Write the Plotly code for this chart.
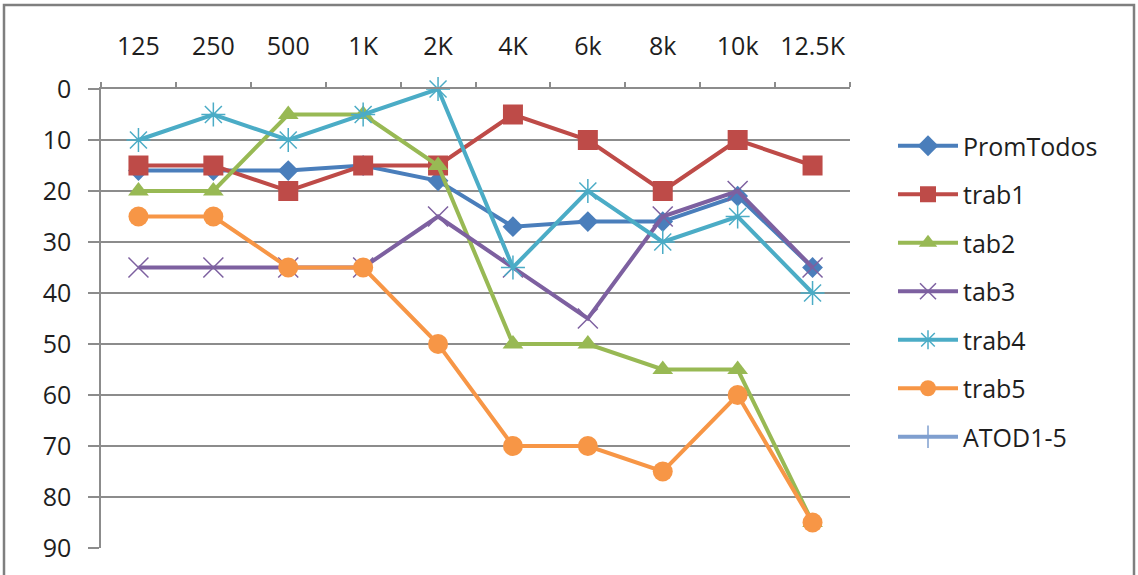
import plotly.graph_objects as go

# Audiometric thresholds per frequency (dB, plotted downward)
frequencies = ["125", "250", "500", "1K", "2K", "4K", "6k", "8k", "10k", "12.5K"]

prom_todos = [16, 16, 16, 15, 18, 27, 26, 26, 21, 35]
trab1 = [15, 15, 20, 15, 15, 5, 10, 20, 10, 15]
tab2 = [20, 20, 5, 5, 15, 50, 50, 55, 55, 85]
tab3 = [35, 35, 35, 35, 25, 35, 45, 25, 20, 35]
trab4 = [10, 5, 10, 5, 0, 35, 20, 30, 25, 40]
trab5 = [25, 25, 35, 35, 50, 70, 70, 75, 60, 85]
atod1_5 = [None, None, None, None, None, None, None, None, None, None]

y_ticks = [0, 10, 20, 30, 40, 50, 60, 70, 80, 90]

FONT = "Open Sans"
GRID = "#8c8c8c"
TEXT = "#1e1e1e"

series = [
    ("PromTodos", prom_todos, "#4A7EBB", dict(symbol="diamond", size=16)),
    ("trab1", trab1, "#BE4B48", dict(symbol="square", size=20)),
    ("tab2", tab2, "#98B954", dict(symbol="triangle-up", size=18)),
    ("tab3", tab3, "#7D60A0", dict(symbol="x-thin-open", size=20, line=dict(width=1.5))),
    ("trab4", trab4, "#4BACC6", dict(symbol="asterisk-open", size=20, line=dict(width=1.5))),
    ("trab5", trab5, "#F79646", dict(symbol="circle", size=20)),
    ("ATOD1-5", atod1_5, "#7F9FCF", dict(symbol="line-ns-open", size=20, line=dict(width=1.5))),
]

fig = go.Figure()
for name, values, color, marker in series:
    marker = dict(marker, color=color)
    fig.add_trace(go.Scatter(
        x=frequencies, y=values, name=name, mode="lines+markers",
        line=dict(color=color, width=4), marker=marker,
        legendgroup=name, cliponaxis=False,
    ))

W, H = 1138, 575
L, R, T, B = 101, 288, 89, 27


def px_x(v):
    return (v - L) / (W - L - R)


def px_y(v):
    return (H - B - v) / (H - T - B)


fig.update_layout(
    width=W, height=H,
    margin=dict(l=L, r=R, t=T, b=B, autoexpand=False),
    paper_bgcolor="white", plot_bgcolor="white",
    font=dict(family=FONT, size=25, color=TEXT),
    xaxis=dict(
        type="category", side="top", range=[-0.5, 9.5], tickangle=0,
        automargin=False,
        showline=True, linecolor=GRID, linewidth=1.5,
        ticks="outside", tickson="boundaries", ticklen=5, tickcolor=GRID, tickwidth=1.5,
        ticklabelstandoff=22, showgrid=False, zeroline=False,
    ),
    yaxis=dict(
        range=[90, 0], tickvals=y_ticks, automargin=False,
        showline=True, linecolor=GRID, linewidth=1.5,
        ticks="outside", ticklen=11, tickcolor=GRID, tickwidth=1.5,
        ticklabelstandoff=12,
        showgrid=True, gridcolor=GRID, gridwidth=1.5, zeroline=False,
    ),
    legend=dict(
        x=px_x(893), y=px_y(123), xanchor="left", yanchor="top",
        font=dict(family=FONT, size=25, color=TEXT),
        tracegroupgap=13, itemwidth=60, bgcolor="rgba(0,0,0,0)",
    ),
    shapes=[
        dict(type="rect", xref="paper", yref="paper",
             x0=px_x(4), x1=px_x(1134), y0=px_y(590), y1=px_y(5),
             line=dict(color="#7f7f7f", width=2.5), fillcolor="rgba(0,0,0,0)",
             layer="below"),
    ],
)

fig.write_html("out.html")
